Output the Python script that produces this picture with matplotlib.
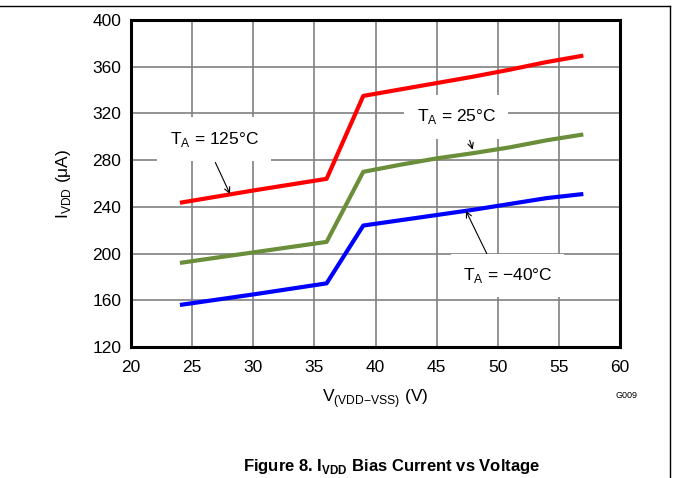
import matplotlib
matplotlib.use("Agg")
import matplotlib.pyplot as plt
from matplotlib.lines import Line2D

plt.rcParams['font.family'] = ['Liberation Sans', 'DejaVu Sans']
plt.rcParams['mathtext.fontset'] = 'custom'
plt.rcParams['mathtext.rm'] = 'Liberation Sans'

# Data (V_(VDD-VSS) in V, I_VDD in uA)
voltage = [24, 30, 36, 39, 42, 45, 48, 51, 54, 57]
i_125c = [243.5, 254, 264, 335, 340.5, 346, 351.5, 357.5, 364, 369.5]
i_25c = [192, 201, 210, 270, 276, 281.5, 286, 291, 297, 302]
i_m40c = [156, 165, 174.5, 224, 228.5, 233, 237.5, 242.5, 247.5, 251]

xticks = [20, 25, 30, 35, 40, 45, 50, 55, 60]
yticks = [120, 160, 200, 240, 280, 320, 360, 400]

FS = 12.5

fig = plt.figure(figsize=(6.73, 4.78), dpi=100)
ax = fig.add_axes([131/673, 1-347/478, (620-131)/673, (347-20)/478])

ax.plot(voltage, i_125c, color='#ff0000', lw=3, solid_capstyle='butt', zorder=3)
ax.plot(voltage, i_25c, color='#6b8e3b', lw=3, solid_capstyle='butt', zorder=3)
ax.plot(voltage, i_m40c, color='#0000ff', lw=3, solid_capstyle='butt', zorder=3)

ax.set_xlim(20, 60)
ax.set_ylim(120, 400)
ax.set_xticks(xticks)
ax.set_yticks(yticks)
ax.tick_params(length=0, labelsize=FS)
ax.tick_params(axis='x', pad=9)
ax.tick_params(axis='y', pad=7)
ax.grid(True, color='#808080', lw=1.2)
ax.set_axisbelow(True)
for s in ax.spines.values():
    s.set_linewidth(2.2)
    s.set_color('black')

ax.set_xlabel('V$_{\\mathregular{(VDD{\u2212}VSS)}}$ (V)', fontsize=FS, labelpad=9)
ax.set_ylabel('I$_{\\mathregular{VDD}}$ (μA)', fontsize=FS, labelpad=14)

box = dict(boxstyle='square,pad=0.7', fc='white', ec='none')
arrow = dict(arrowstyle='->', color='black', lw=0.8, shrinkA=0, shrinkB=0)

ax.text(26.8, 298, 'T$_{\\mathregular{A}}$ = 125°C', fontsize=FS, ha='center', va='center', bbox=box, zorder=4)
ax.annotate('', xy=(28.1, 251), xytext=(26.9, 278), arrowprops=arrow, zorder=5)

ax.text(46.6, 317, 'T$_{\\mathregular{A}}$ = 25°C', fontsize=FS, ha='center', va='center', bbox=box, zorder=4)
ax.annotate('', xy=(47.95, 289), xytext=(47.7, 297), arrowprops=arrow, zorder=5)

ax.text(50.8, 181, 'T$_{\\mathregular{A}}$ = \u221240°C', fontsize=FS, ha='center', va='center', bbox=box, zorder=4)
ax.annotate('', xy=(47.4, 236.5), xytext=(49.1, 200), arrowprops=arrow, zorder=5)

fig.text(627/673, 1-395/478, 'G009', fontsize=6.5, ha='center', va='center')

fig.text(392/673, 1-466/478, 'Figure 8. I$_{\\mathregular{VDD}}$ Bias Current vs Voltage',
         fontsize=12, fontweight='bold', ha='center', va='center')

fig.add_artist(Line2D([0, 670/673], [1-6/478, 1-6/478], transform=fig.transFigure, color='black', lw=1))
fig.add_artist(Line2D([670/673, 670/673], [1-6/478, 0], transform=fig.transFigure, color='black', lw=1))

fig.savefig('out.png', dpi=100)
